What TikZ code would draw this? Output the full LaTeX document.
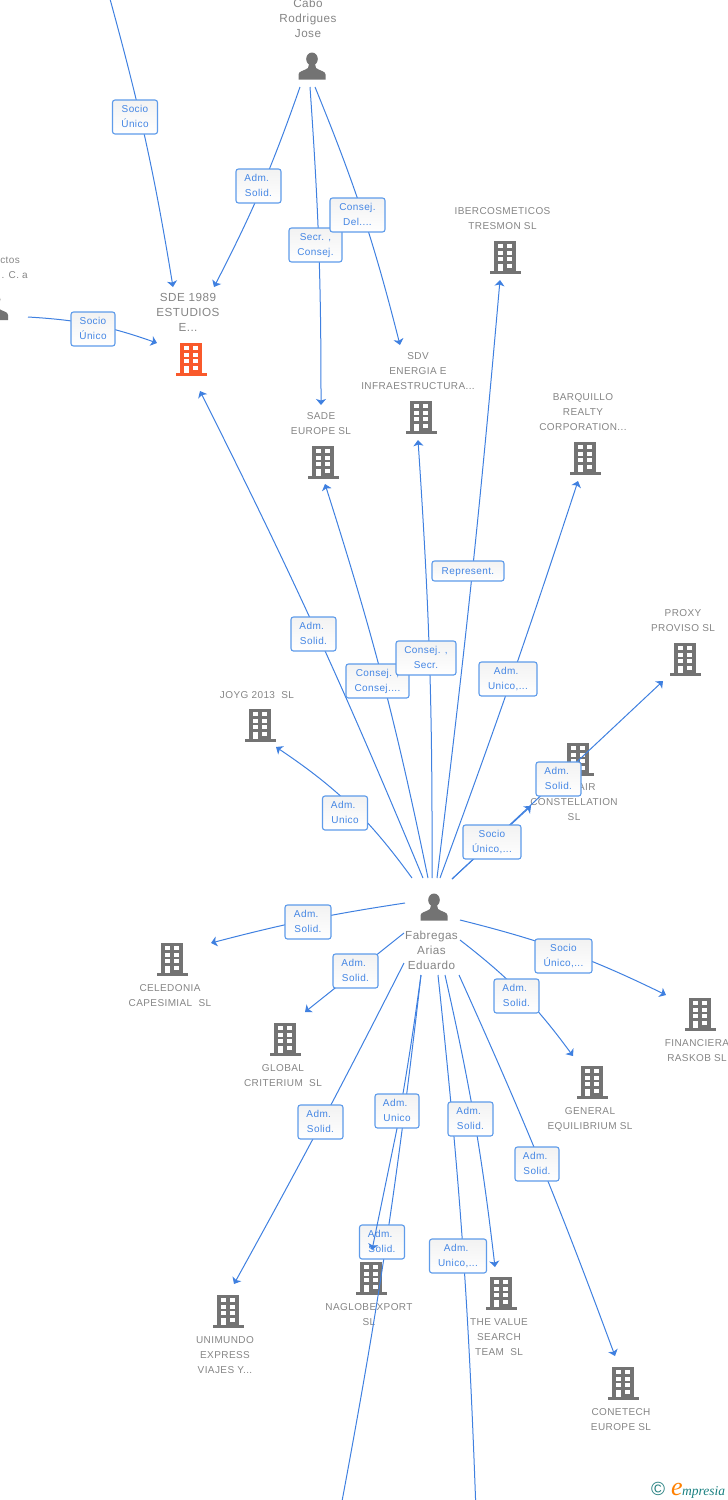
\documentclass[tikz,border=0pt]{standalone}
\usepackage{fontspec}
\setmainfont[LetterSpace=4]{Liberation Sans}
\newfontfamily\logofont{Liberation Serif}
\usetikzlibrary{arrows.meta,backgrounds}
\definecolor{linkblue}{HTML}{3F80E0}
\definecolor{boxblue}{HTML}{5E9BEA}
\definecolor{boxtext}{HTML}{4486E4}
\definecolor{iconcolor}{HTML}{737373}
\definecolor{namegray}{HTML}{858585}
\definecolor{mainorange}{HTML}{F9592B}
\newcommand{\admtext}{Adm.\hspace*{3.5pt}}
\newcommand{\boxlines}[1]{\raisebox{-2.5pt}[0pt][0pt]{\begin{tabular}{@{}c@{}}#1\end{tabular}}}
\tikzset{
	link/.style={linkblue,line width=1pt},
	tipped/.style={link,-{Stealth[length=6pt,width=10pt,inset=1.5pt]}},
	firmname/.style={text=namegray,align=center,inner sep=0pt,yshift=-0.5pt,font=\fontsize{10}{15}\selectfont,
		execute at begin node={\rule{0pt}{8pt}},execute at end node={\rule[-1pt]{0pt}{1pt}}},
	bigname/.style={firmname,font=\fontsize{11.7}{15}\selectfont},
	boxlabel/.style={draw=boxblue,line width=1.1pt,rounded corners=2.5pt,top color=black!5,bottom color=white,text=boxtext,inner sep=0pt,font=\fontsize{10}{15}\selectfont},
	pics/building/.style={code={
		\fill[#1] (-11,-16.5) rectangle (11,14);
		\fill[#1] (-15.5,14) rectangle (15.5,16.5);
		\foreach \r in {-13.2,-6.5,0.2,6.8} {
			\fill[white] (2.3,\r) rectangle (7,\r+4);
		}
		\foreach \r in {-13.2,-6.5,0.2} {
			\fill[white] (-7,\r) rectangle (-2.3,\r+4);
		}
		\fill[white] (-7,6.8) rectangle (-2.3,14);
	}},
	pics/person/.style={code={
		\fill[iconcolor] (0,-7) ellipse (5.8 and 6.5);
		\fill[iconcolor] (-13.5,13.5) -- (-13.5,8.5) .. controls (-13.5,5) and (-8,5) .. (-4,2) -- (-3,-2) -- (3,-2) -- (4,2) .. controls (8,5) and (13.5,5) .. (13.5,8.5) -- (13.5,13.5) -- cycle;
	}}
}
\begin{document}
\begin{tikzpicture}[x=1pt,y=-1pt]
	\clip (0,0) rectangle (728,1500);
	% Anfangspunkte und Pfeilspitzen
	\foreach \n/\x/\y in {topA/110/-1,caboA/300/87,caboB/310/87,caboC/315/87,leftA/28/317,
		fabA/412/878,fabB/423/878,fabC/428/878,fabD/432/878,fabE/437/878,fabF/440/878,fabG/452/879,
		fabH/405/903,fabI/404/933,fabJ/404/963,fabK/421/975,fabL/421/975,fabM/438/975,fabN/445/975,fabO/459/975,fabP/460/940,fabQ/460/920,
		sdeA/173/287,sdeB/214/287,sdeC/157/343,sdeD/200/391,sadeA/321/405,sadeB/325/484,sdvA/400/345,sdvB/418/440,
		iberA/500/280,barqA/578/481,airA/531/806,proxyA/663/681,joygA/276/747,celA/211/943,globA/305/1012,
		uniA/234/1284,nagA/372/1250,botA/340/1512,botB/476/1512,valA/495/1267,conA/615/1356,genA/573/1056,finA/666/995} {
		\coordinate (\n) at (\x,\y);
	}
	\begin{scope}[on background layer]
		% Firmen
		\foreach \n/\x/\y/\tx/\ty/\t in {
			iber/505/257/502.5/218.5/{IBERCOSMETICOS\\TRESMON SL},
			sdv/421/417/418/371/{SDV\\ENERGIA E\\INFRAESTRUCTURA...},
			sade/323/462/321/423.5/{SADE\\EUROPE SL},
			barq/585/458/583/412/{BARQUILLO\\REALTY\\CORPORATION...},
			proxy/685/659/683/620.5/{PROXY\\PROVISO SL},
			air/578/759/574/802/{\hphantom{ONE }AIR\\CONSTELLATION\\SL},
			joyg/260/725/257/694/{JOYG 2013\ \ SL},
			cele/172/959/170/995.5/{CELEDONIA\\CAPESIMIAL\ \ SL},
			glob/285/1039/283/1075.5/{GLOBAL\\CRITERIUM\ \ SL},
			gene/592/1082/590/1118.5/{GENERAL\\EQUILIBRIUM SL},
			fina/700/1014/697/1050.5/{FINANCIERA\\RASKOB SL},
			unim/228/1311/225/1355/{UNIMUNDO\\EXPRESS\\VIAJES Y...},
			nagl/371/1278/369/1314.5/{NAGLOBEXPORT\\SL},
			valu/501/1293/499/1337/{THE VALUE\\SEARCH\\TEAM\ \ SL},
			cone/623/1383/621/1419.5/{CONETECH\\EUROPE SL}} {
			\pic at (\x,\y) {building=iconcolor};
			\node[firmname] (\n) at (\tx,\ty) {\t};
		}
		% Hauptfirma
		\pic at (191,359) {building=mainorange};
		\node[bigname] (sde) at (188,312) {SDE 1989\\ESTUDIOS\\E...};
		% Personen
		\pic at (312,66) {person};
		\node[bigname] (cabo) at (308,18) {Cabo\\Rodrigues\\Jose};
		\pic at (434,907) {person};
		\node[bigname] (fabr) at (431.5,950) {Fabregas\\Arias\\Eduardo};
		\pic at (-5.5,306.5) {person};
		\node[firmname,anchor=east] (leftA1) at (20,259) {ctos};
		\node[firmname,anchor=east] (leftA2) at (28,274) {. C. a};
		% Verbindungen
		\foreach \s/\b/\e in {topA/3/sdeA,caboA/4/sdeB,caboB/2/sadeA,caboC/4/sdvA,leftA/8/sdeC,
			fabA/-10/joygA,fabB/-2/sdeD,fabC/-3/sadeB,fabD/-2/sdvB,fabE/-1/iberA,fabF/-1/barqA,fabG/0/airA,fabG/0/proxyA,
			fabH/-3/celA,fabI/0/globA,fabJ/1/uniA,fabL/2/botA,fabM/2/botB,fabN/3/valA,fabO/2/conA,fabP/8/genA,fabQ/6/finA} {
			\draw[tipped] (\s) to[bend left=\b] (\e);
		}
	\end{scope}
	% Beschriftungen der Verbindungen
	\foreach \n/\x/\y/\w/\h/\lines in {
		labA/135/117/45/34/{Socio\\Único},
		labB/258.5/186/45/34/{\admtext\\Solid.},
		labC/315.5/245/53/34/{Secr. ,\\Consej.},
		labD/357.5/215/55/34/{Consej.\\Del....},
		labE/93/329/44/34/{Socio\\Único},
		labF/468/571/72/20/{Represent.},
		labG/313.5/634/45/34/{\admtext\\Solid.},
		labH/377.5/681/63/34/{Consej. ,\\Consej....},
		labI/426/658/60/34/{Consej. ,\\Secr.},
		labJ/508/679/58/34/{\admtext\\Unico,...},
		labK/345/813/45/34/{\admtext\\Unico},
		labL/492/842/58/34/{Socio\\Único,...},
		labM/558.5/779/45/34/{\admtext\\Solid.},
		labN/308/922/46/34/{\admtext\\Solid.},
		labO/355.5/971/45/34/{\admtext\\Solid.},
		labP/516.5/996/45/34/{\admtext\\Solid.},
		labQ/563.5/956/57/34/{Socio\\Único,...},
		labR/320.5/1122/45/34/{\admtext\\Solid.},
		labS/397/1111/44/34/{\admtext\\Unico},
		labT/470.5/1119/45/34/{\admtext\\Solid.},
		labU/537/1164/44/34/{\admtext\\Solid.},
		labV/382/1242/45/34/{\admtext\\Solid.},
		labW/458/1256/57/34/{\admtext\\Unico,...}} {
		\node[boxlabel,minimum width=\w,minimum height=\h] (\n) at (\x,\y) {\boxlines{\lines}};
	}
	% Verbindung hinter und vor den Beschriftungen
	\begin{scope}[on background layer]
		\draw[link] (fabK) to[bend left=1] (labS.south);
	\end{scope}
	\draw[tipped] (labS.south) -- (nagA);
	% Logo
	\node[text=teal!70!gray,inner sep=0pt,font=\fontsize{19}{19}\selectfont] (logoC) at (658,1489) {©};
	\node[text=orange,inner sep=0pt,anchor=base west,font=\logofont\itshape\fontsize{26}{26}\selectfont] (logoE) at (671,1495) {e};
	\node[text=teal!80!gray,inner sep=0pt,anchor=base west,font=\logofont\itshape\fontsize{13.5}{14}\selectfont] (logoT) at (682,1495) {mpresia};
\end{tikzpicture}
\end{document}
